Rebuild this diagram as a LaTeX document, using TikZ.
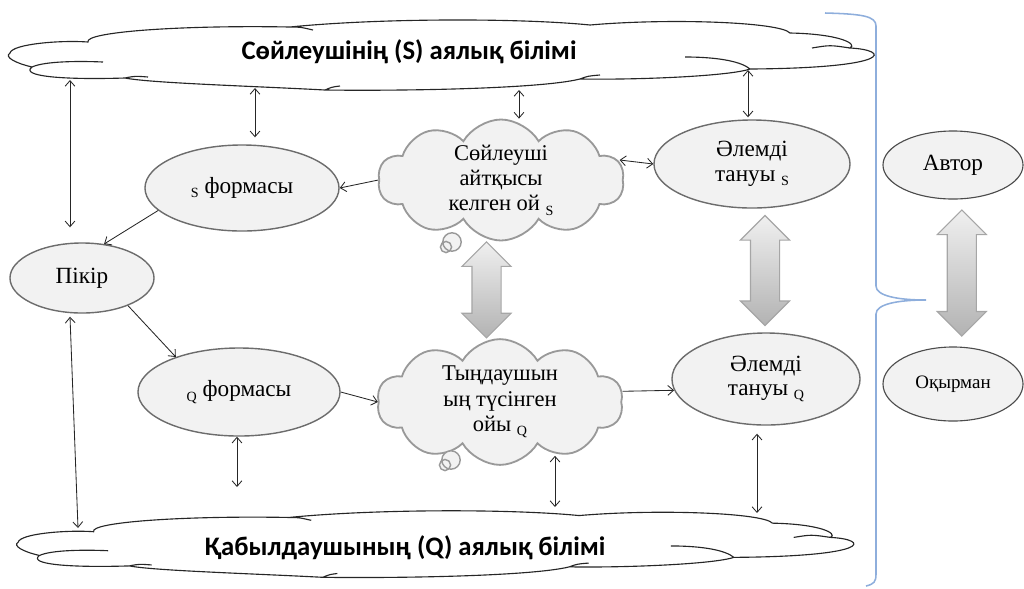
\documentclass[tikz,border=0pt]{standalone}
\usepackage{fontspec}
\setmainfont{Liberation Serif}
\newfontfamily\titlefont{Carlito}[UprightFont=* Bold]
\usetikzlibrary{shapes.symbols,shapes.arrows,shapes.geometric,calc,arrows.meta}
\definecolor{bracecol}{HTML}{8EAEDC}
\newcommand{\lowidx}[1]{\raisebox{-0.4ex}{\fontsize{10}{10}\selectfont #1}}
% outline of a flat knowledge cloud, centred on (0,0)
\newcommand{\fieldcloud}{%
  (-430,-3) .. controls (-428,-12) and (-380,-16) .. (-352,-14)
  .. controls (-356,-24) and (-260,-31) .. (-150,-29)
  .. controls (-60,-38) and (80,-38) .. (150,-31)
  .. controls (230,-38) and (340,-34) .. (350,-23)
  .. controls (400,-22) and (418,-12) .. (410,-8)
  .. controls (450,-6) and (455,12) .. (310,13)
  .. controls (290,20) and (200,24) .. (140,23)
  .. controls (100,33) and (-40,35) .. (-115,34)
  .. controls (-190,30) and (-290,27) .. (-315,22)
  .. controls (-380,24) and (-420,20) .. (-408,11)
  .. controls (-425,7) and (-436,1) .. (-430,-3) -- cycle
  (-408,11) .. controls (-395,5) and (-360,5) .. (-337,6)
  (-315,22) .. controls (-305,20) .. (-292,21)
  (-150,-29) .. controls (-140,-29) .. (-127,-26)
  (372,-8) .. controls (390,-11) .. (410,-8)
  (245,1) .. controls (280,1) and (302,6) .. (310,13)
  (-115,34) .. controls (-108,31) .. (-100,30)
  (140,23) .. controls (148,20) .. (160,19)}

\begin{document}
\begin{tikzpicture}[x=0.025cm,y=-0.025cm]
        \tikzstyle{oval} = [ellipse, draw=gray!85!black, line width=1pt, fill=gray!10, inner sep=0pt, align=center, font=\fontsize{16.5}{17.5}\selectfont]
        \tikzstyle{role} = [oval, draw=black!70, line width=0.8pt, minimum width=3.5cm]
        \tikzstyle{fieldline} = [draw=black!85, line width=0.8pt, fill=white]
        \tikzstyle{thought} = [cloud, cloud puffs=10, cloud puff arc=120, cloud ignores aspect, draw=gray!80, line width=1.3pt, fill=gray!10, align=center, inner sep=0pt, minimum width=6.15cm, minimum height=2.85cm, font=\fontsize{16}{18}\selectfont]
        \tikzstyle{bubble} = [draw=gray!80, line width=1pt, fill=gray!10]
        \tikzstyle{bigarrow} = [double arrow, rotate=90, draw=gray!70, line width=0.8pt, top color=gray!12, bottom color=gray!60, inner xsep=0pt, inner ysep=0.35cm, double arrow head extend=0.25cm]
        \tikzstyle{title} = [font=\titlefont\fontsize{19}{19}\selectfont]
        \tikzstyle{link} = [line width=0.6pt, black!85, >={Straight Barb[length=4pt,width=7pt]}]
        \tikzstyle{brace} = [draw=bracecol, line width=1.1pt]

        \useasboundingbox (0,0) rectangle (1024,588);

        \begin{scope}[shift={(440,56)}]
            \draw[fieldline] \fieldcloud;
        \end{scope}
        \begin{scope}[shift={(434,545)}, xscale=0.967, yscale=0.95]
            \draw[fieldline] \fieldcloud;
        \end{scope}
        \node[title] (topK) at (409,52) {Сөйлеушінің (S) аялық білімі};
        \node[title] (botK) at (405,548) {Қабылдаушының (Q) аялық білімі};

        \node[oval, minimum width=4.85cm, minimum height=2.15cm] (Sform) at (242,188){\lowidx{S} формасы};
        \node[oval, minimum width=3.6cm, minimum height=1.75cm] (Pkr) at (82,278){Пікір};
        \node[oval, minimum width=5.05cm, minimum height=2.2cm] (Qform) at (239,392){\lowidx{Q} формасы};
        \node[thought] (ThS) at (501,180){Сөйлеуші\\айтқысы\\келген ой \lowidx{S}};
        \node[thought] (ThQ) at (500,402){Тыңдаушын\\ың түсінген\\ойы \lowidx{Q}};
        \node[oval, minimum width=4.9cm, minimum height=2.2cm] (WorldS) at (752,164){Әлемді\\тануы \lowidx{S}};
        \node[oval, minimum width=4.7cm, minimum height=2.3cm] (WorldQ) at (766,379){Әлемді\\тануы \lowidx{Q}};
        \node[role, minimum height=1.7cm] (Avtor) at (953,165){Автор};
        \node[role, minimum height=1.85cm, font=\fontsize{13.5}{15}\selectfont] (Okyr) at (953,384){Оқырман};

        \draw[bubble] (452,242) circle[radius=0.23cm] (446,247) circle[radius=0.14cm];
        \draw[bubble] (451,460) circle[radius=0.23cm] (445,465) circle[radius=0.14cm];

        \node[xshift=-0.35cm, bigarrow, minimum height=2.4cm] (midArr) at ($(ThS.south)!0.5!(ThQ.north)$){};
        \node[xshift=0.15cm, bigarrow, minimum height=2.75cm] (worldArr) at ($(WorldS.south)!0.5!(WorldQ.north)$){};
        \node[xshift=0.22cm, bigarrow, minimum height=3.15cm] (roleArr) at ($(Avtor.south)!0.5!(Okyr.north)$){};

        \draw[link,<->] ($(Pkr.north |- topK)+(-12,28)$) -- ($(Pkr.north)+(-12,-15)$);
        \draw[link,<->] ($(Sform.north |- topK)+(13,36)$) -- ($(Sform.north)+(13,-7)$);
        \draw[link,<->] ($(ThS.north |- topK)+(18,38)$) -- ($(ThS.north)+(18,0)$);
        \draw[link,<->] ($(WorldS.north |- topK)+(-4,18)$) -- ($(WorldS.north)+(-4,-2)$);
        \draw[link,->] (ThS.west) -- (Sform.east);
        \draw[link,<->] ($(ThS.east)+(-4,-20)$) -- (WorldS.west);
        \draw[link,->] (Sform.195) -- (Pkr.57);
        \draw[link,->] (Pkr.-31) -- (Qform.151);
        \draw[link,<->] ($(Pkr.south)+(-12,3)$) -- ($(Pkr.south |- botK)+(-4,-20)$);
        \draw[link,<->] ($(Qform.south)+(-2,0)$) -- ($(Qform.south |- botK)+(-2,-61)$);
        \draw[link,->] (Qform.east) -- (ThQ.west);
        \draw[link,<->] ($(ThQ.south)+(55,-10)$) -- ($(ThQ.south |- botK)+(55,-41)$);
        \draw[link,->] (ThQ.5) -- (WorldQ.187);
        \draw[link,<->] ($(WorldQ.south)+(-9,8)$) -- ($(WorldQ.south |- botK)+(-9,-35)$);

        \draw[brace] (825,13) .. controls (862,14) and (876,16) .. (876,26) -- (876,286) .. controls (876,296) and (898,300) .. (926,300) .. controls (898,300) and (876,304) .. (876,314) -- (876,574) .. controls (876,582) and (874,584) .. (866,586);

    \end{tikzpicture}
\end{document}
